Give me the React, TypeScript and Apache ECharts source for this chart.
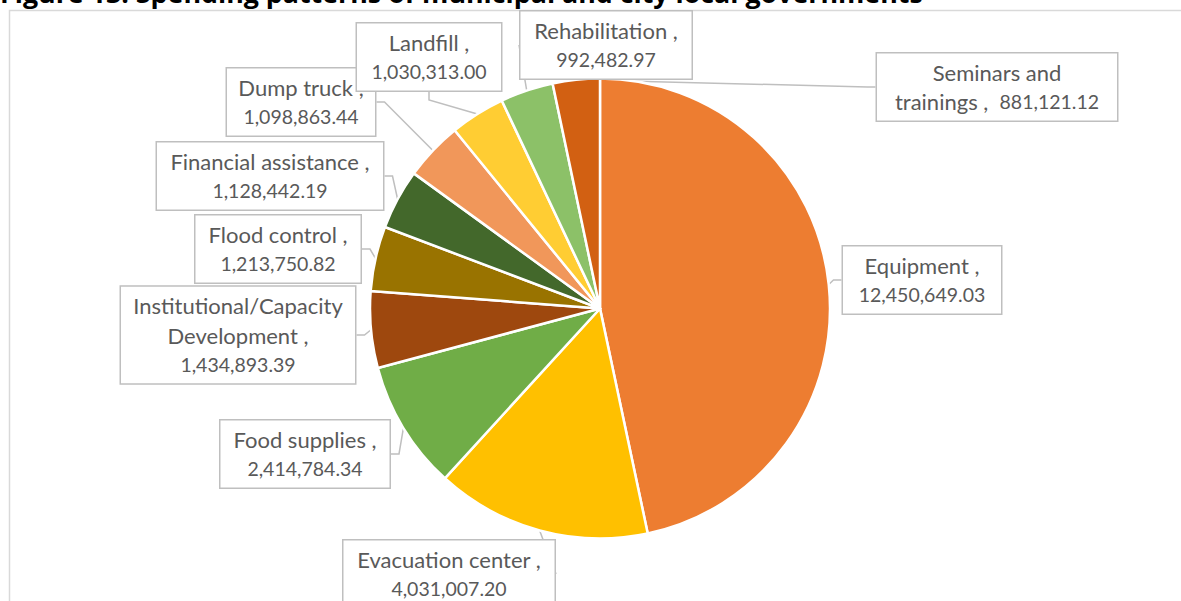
import React, { useEffect, useRef } from "react";
import * as echarts from "echarts";

const TITLE = "Figure 13. Spending patterns of municipal and city local governments";

const CATEGORIES = [
  "Equipment",
  "Evacuation center",
  "Food supplies",
  "Institutional/Capacity Development",
  "Flood control",
  "Financial assistance",
  "Dump truck",
  "Landfill",
  "Rehabilitation",
  "Seminars and trainings",
];

const VALUES = [
  12450649.03, 4031007.2, 2414784.34, 1434893.39, 1213750.82, 1128442.19, 1098863.44,
  1030313.0, 992482.97, 881121.12,
];

const COLORS = [
  "#ED7D31",
  "#FFC000",
  "#70AD47",
  "#9E480E",
  "#997300",
  "#43682B",
  "#F1975A",
  "#FFCD33",
  "#8CC168",
  "#D26012",
];

// label box layout (centre x, centre y, box width) — layout, not data
const LABEL_BOXES = [
  { x: 922, y: 280, w: 158 },
  { x: 449, y: 574, w: 211 },
  { x: 305, y: 454, w: 169 },
  { x: 238, y: 335, w: 234 },
  { x: 278, y: 249, w: 165 },
  { x: 270, y: 176, w: 226 },
  { x: 301, y: 102, w: 148 },
  { x: 429, y: 57, w: 144 },
  { x: 606, y: 45, w: 171 },
  { x: 997, y: 87, w: 240 },
];

const fmt = (v: number) =>
  v.toLocaleString("en-US", { minimumFractionDigits: 2, maximumFractionDigits: 2 });

function labelText(name: string, value: number): string {
  if (name === "Institutional/Capacity Development") {
    return "{n|Institutional/Capacity}\n{n|Development ,}\n{v|" + fmt(value) + "}";
  }
  if (name === "Seminars and trainings") {
    return "{n|Seminars and}\n{n|trainings ,  }{v|" + fmt(value) + "}";
  }
  return "{n|" + name + " ,}\n{v|" + fmt(value) + "}";
}

export default function App() {
  const ref = useRef<HTMLDivElement>(null);

  useEffect(() => {
    if (!ref.current) return;
    const chart = echarts.init(ref.current, undefined, { renderer: "svg" });
    const data = CATEGORIES.map((name, i) => ({
      name,
      value: VALUES[i],
      itemStyle: { color: COLORS[i] },
      label: { width: LABEL_BOXES[i].w - 14 },
    }));
    const textBase = { fontFamily: "Lato", color: "#595959", lineHeight: 29.5 };
    chart.setOption({
      animation: false,
      backgroundColor: "#ffffff",
      graphic: [
        {
          type: "rect",
          shape: { x: 9.5, y: 10.5, width: 1200, height: 620 },
          style: { fill: "none", stroke: "#d9d9d9", lineWidth: 1.5 },
          z: 0,
        },
        {
          type: "text",
          x: 0,
          y: 6,
          style: {
            text: TITLE,
            fontFamily: "Open Sans",
            fontWeight: "bold",
            fontSize: 26.8,
            fill: "#000000",
            verticalAlign: "bottom",
            align: "left",
          },
          z: 10,
        },
      ],
      series: [
        {
          type: "pie",
          center: [600, 308.5],
          radius: 230,
          startAngle: 90,
          clockwise: true,
          avoidLabelOverlap: false,
          emphasis: { disabled: true },
          itemStyle: { borderColor: "#ffffff", borderWidth: 2.5 },
          label: {
            show: true,
            position: "outside",
            formatter: (p: any) => labelText(p.name, p.value),
            fontFamily: "Lato",
            fontSize: 21,
            lineHeight: 29.5,
            color: "#595959",
            align: "center",
            backgroundColor: "#ffffff",
            borderColor: "#bfbfbf",
            borderWidth: 1.5,
            padding: [4, 7],
            rich: {
              n: { ...textBase, fontSize: 22 },
              v: { ...textBase, fontSize: 19.5 },
            },
          },
          labelLine: {
            show: true,
            length: 8,
            length2: 8,
            lineStyle: { color: "#bfbfbf", width: 1.5 },
          },
          labelLayout: (params: any) => {
            const b = LABEL_BOXES[params.dataIndex];
            return {
              x: b.x,
              y: b.y,
              align: "center",
              verticalAlign: "middle",
              hideOverlap: false,
              moveOverlap: null,
            };
          },
          data,
        },
      ],
    });
    return () => chart.dispose();
  }, []);

  return (
    <div
      ref={ref}
      style={{ position: "fixed", left: 0, top: 0, width: 1181, height: 601, background: "#fff" }}
    />
  );
}
